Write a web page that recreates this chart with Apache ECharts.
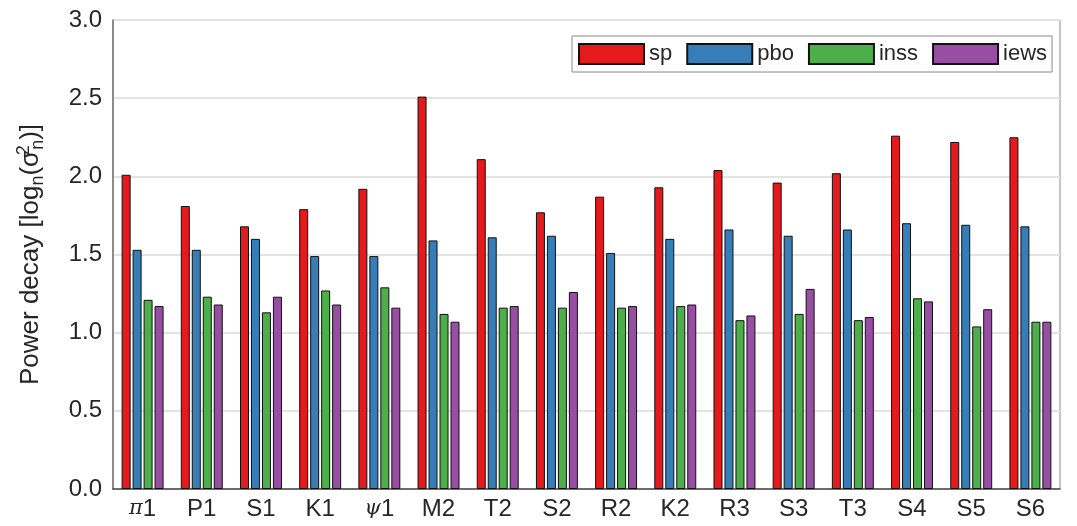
<!DOCTYPE html>
<html>
<head>
<meta charset="utf-8">
<script src="https://cdn.jsdelivr.net/npm/echarts@6/dist/echarts.min.js"></script>
<style>
  html, body { margin: 0; padding: 0; background: #fff; }
  #main_container { width: 1077px; height: 526px; }
</style>
</head>
<body>
<div id="main_container"></div>
<script>
// tidal constituents on the x axis
var categories = ["π1", "P1", "S1", "K1", "ψ1", "M2", "T2", "S2", "R2", "K2", "R3", "S3", "T3", "S4", "S5", "S6"];
var yTicks = [0, 0.5, 1.0, 1.5, 2.0, 2.5, 3.0];

var sp   = [2.01, 1.81, 1.68, 1.79, 1.92, 2.51, 2.11, 1.77, 1.87, 1.93, 2.04, 1.96, 2.02, 2.26, 2.22, 2.25];
var pbo  = [1.53, 1.53, 1.60, 1.49, 1.49, 1.59, 1.61, 1.62, 1.51, 1.60, 1.66, 1.62, 1.66, 1.70, 1.69, 1.68];
var inss = [1.21, 1.23, 1.13, 1.27, 1.29, 1.12, 1.16, 1.16, 1.16, 1.17, 1.08, 1.12, 1.08, 1.22, 1.04, 1.07];
var iews = [1.17, 1.18, 1.23, 1.18, 1.16, 1.07, 1.17, 1.26, 1.17, 1.18, 1.11, 1.28, 1.10, 1.20, 1.15, 1.07];

var seriesNames = ["sp", "pbo", "inss", "iews"];
var colors = ["#E41A1C", "#377EB8", "#4DAF4A", "#984EA3"];

var FONT = "Liberation Sans, Arial, Helvetica, sans-serif";
var TXT = "#262626";

var myChart = echarts.init(document.getElementById("main_container"));

function makeBar(name, data, i) {
  return {
    name: name,
    type: "bar",
    data: data,
    barWidth: 9,
    barGap: "22%",
    itemStyle: { color: colors[i], borderColor: "#111", borderWidth: 1 },
  };
}

myChart.setOption({
  animation: false,
  textStyle: { fontFamily: FONT },
  grid: {
    left: 113,
    right: 17,
    top: 20,
    bottom: 37,
    show: true,
    borderColor: "#888",
    borderWidth: 1,
  },
  legend: {
    data: seriesNames,
    left: 572,
    top: 36,
    itemWidth: 65,
    itemHeight: 20,
    itemGap: 14,
    padding: [7, 5, 7, 6],
    icon: "rect",
    borderColor: "#888",
    borderWidth: 1,
    backgroundColor: "#fff",
    textStyle: { fontSize: 22, color: TXT, fontFamily: FONT },
  },
  xAxis: {
    type: "category",
    data: categories,
    axisLine: { lineStyle: { color: "#444", width: 1.5 } },
    axisTick: { show: false },
    axisLabel: {
      interval: 0,
      fontSize: 24,
      color: TXT,
      margin: 8,
      formatter: function (v) {
        var g = v.charAt(0);
        if (g === "π" || g === "ψ") return "{g|" + g + "}" + v.slice(1);
        return v;
      },
      rich: {
        g: { fontFamily: "DejaVu Serif, serif", fontStyle: "italic", fontSize: 21, color: TXT },
      },
    },
  },
  yAxis: {
    type: "value",
    min: 0,
    max: yTicks[yTicks.length - 1],
    interval: 0.5,
    axisLine: { show: true, lineStyle: { color: "#777", width: 1.5 } },
    axisTick: { show: false },
    splitLine: { lineStyle: { color: "#e3e3e3", width: 2 } },
    axisLabel: {
      fontSize: 24,
      color: TXT,
      margin: 11,
      formatter: function (v) { return v.toFixed(1); },
    },
    name: "Power decay [log{sub|n}(σ{sup|2}{sub|n})]",
    nameLocation: "middle",
    nameGap: 66,
    nameRotate: 90,
    nameTextStyle: {
      fontSize: 26,
      color: TXT,
      rich: {
        sub: { fontSize: 18, padding: [14, 0, 0, 0], color: TXT },
        sup: { fontSize: 18, padding: [0, 0, 14, 0], width: 1, color: TXT },
      },
    },
  },
  series: [
    makeBar(seriesNames[0], sp, 0),
    makeBar(seriesNames[1], pbo, 1),
    makeBar(seriesNames[2], inss, 2),
    makeBar(seriesNames[3], iews, 3),
  ],
});
</script>
</body>
</html>
